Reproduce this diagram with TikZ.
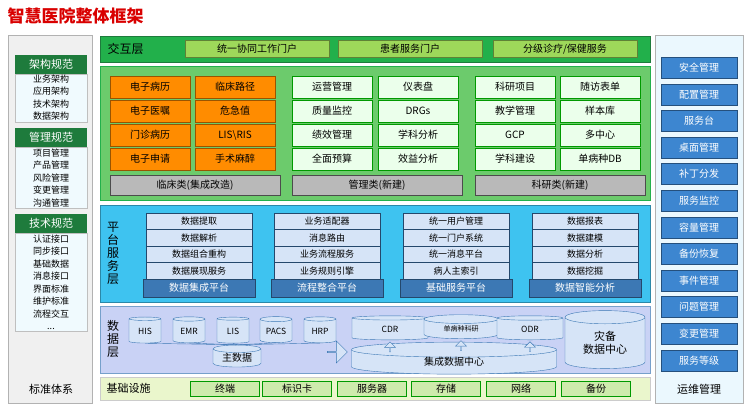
\documentclass[tikz,border=0pt]{standalone}
\usepackage{fontspec}
\setmainfont{Noto Sans CJK SC}
\usetikzlibrary{positioning,shapes.geometric,shapes.arrows}
\definecolor{dkgreen}{HTML}{1E7B3C}
\definecolor{midgreen}{HTML}{22B04B}
\definecolor{ltgreen}{HTML}{9ED85A}
\definecolor{appgreen}{HTML}{6CCB6C}
\definecolor{orng}{HTML}{FF8C00}
\definecolor{cyanbg}{HTML}{3EC3F0}
\definecolor{lavbg}{HTML}{C9D2F5}
\definecolor{barblue}{HTML}{3C78B4}
\definecolor{itemblue}{HTML}{D6E4F7}
\definecolor{rbtn}{HTML}{3D86D0}
\definecolor{infra}{HTML}{EAF6CC}
\begin{document}
\begin{tikzpicture}[x=1pt,y=-1pt,
    box/.style={draw=#1!60!black, line width=0.4pt, inner sep=0pt, font=\fontsize{10}{11}\selectfont},
    cyl/.style={cylinder, shape border rotate=90, aspect=0.25, draw=barblue, fill=itemblue, inner sep=0pt, font=\fontsize{8.5}{9}\selectfont},
    hdr/.style={fill=dkgreen, text=white, font=\fontsize{11}{12}\selectfont, minimum width=72pt, minimum height=19pt, inner sep=0pt},
    lst/.style={fill=white!80!cyan!30, draw=gray!50, font=\fontsize{9}{12.5}\selectfont, minimum width=72pt, align=center, inner sep=1pt},
    rbox/.style={fill=rbtn, text=white, draw=rbtn!60!black, font=\fontsize{10}{11}\selectfont, minimum width=76pt, minimum height=21pt, inner sep=0pt}
]
\useasboundingbox (0,0) rectangle (750,410);
\fill[white] (0,0) rectangle (750,410);

% title
\node[anchor=west, text=red!85!black, font=\fontsize{17}{18}\selectfont\bfseries] (title) at (4,16) {智慧医院整体框架};

% left panel
\node[draw=gray!60, fill=gray!12, minimum width=84pt, minimum height=368pt, inner sep=0pt, anchor=north west] (left) at (8,35) {};
\node[hdr] (h1) at (51,64) {架构规范};
\node[lst, below=0pt of h1] (l1) {业务架构\\应用架构\\技术架构\\数据架构};
\node[hdr, below=6pt of l1] (h2) {管理规范};
\node[lst, below=0pt of h2] (l2) {项目管理\\产品管理\\风险管理\\变更管理\\沟通管理};
\node[hdr, below=6pt of l2] (h3) {技术规范};
\node[lst, below=0pt of h3] (l3) {认证接口\\同步接口\\基础数据\\消息接口\\界面标准\\维护标准\\流程交互\\...};
\node[font=\fontsize{11}{12}\selectfont] (std) at (51,389) {标准体系};

% right panel
\node[draw=gray!60, fill=cyan!8, minimum width=88pt, minimum height=368pt, inner sep=0pt, anchor=north west] (right) at (655,35) {};
\foreach \t [count=\i] in {安全管理,配置管理,服务台,桌面管理,补丁分发,服务监控,容量管理,备份恢复,事件管理,问题管理,变更管理,服务等级}
  \node[rbox] (r\i) at (699,{41+\i*26.6}) {\t};
\node[font=\fontsize{11}{12}\selectfont] (ops) at (699,389) {运维管理};

% interaction layer
\node[fill=midgreen, draw=dkgreen, minimum width=550pt, minimum height=26pt, anchor=north west, inner sep=0pt] (jh) at (100,36) {};
\node[anchor=west, font=\fontsize{12}{13}\selectfont] (jhl) at (104,49) {交互层};
\foreach \x/\t in {257/统一协同工作门户, 410/患者服务门户, 565/{分级诊疗/保健服务}}
  \node[box=ltgreen, fill=ltgreen, minimum width=144pt, minimum height=17pt] at (\x,49) {\t};

% application layer
\node[fill=appgreen, draw=midgreen, line width=1pt, minimum width=550pt, minimum height=134pt, anchor=north west, inner sep=0pt] (app) at (100,66) {};
\foreach \a/\b [count=\r] in {电子病历/临床路径, 电子医嘱/危急值, 门诊病历/LIS\textbackslash RIS, 电子申请/手术麻醉}{
  \node[box=orng, fill=orng, minimum width=80pt, minimum height=22pt] at (150,{63+\r*24}) {\a};
  \node[box=orng, fill=orng, minimum width=80pt, minimum height=22pt] at (235,{63+\r*24}) {\b};
}
\foreach \a/\b [count=\r] in {运营管理/仪表盘, 质量监控/DRGs, 绩效管理/学科分析, 全面预算/效益分析}{
  \node[box=green, fill=green!8, minimum width=80pt, minimum height=22pt] at (332,{63+\r*24}) {\a};
  \node[box=green, fill=green!8, minimum width=80pt, minimum height=22pt] at (418,{63+\r*24}) {\b};
}
\foreach \a/\b [count=\r] in {科研项目/随访表单, 教学管理/样本库, GCP/多中心, 学科建设/单病种DB}{
  \node[box=green, fill=green!8, minimum width=80pt, minimum height=22pt] at (515,{63+\r*24}) {\a};
  \node[box=green, fill=green!8, minimum width=80pt, minimum height=22pt] at (600,{63+\r*24}) {\b};
}
\node[box=gray, fill=gray!55, minimum width=170pt, minimum height=20pt] (clin) at (195,185) {临床类(集成改造)};
\node[box=gray, fill=gray!55, minimum width=170pt, minimum height=20pt] (mgmt) at (377,185) {管理类(新建)};
\node[box=gray, fill=gray!55, minimum width=170pt, minimum height=20pt] (res) at (560,185) {科研类(新建)};

% platform service layer
\node[fill=cyanbg, draw=cyanbg!70!black, minimum width=550pt, minimum height=97pt, anchor=north west, inner sep=0pt] (plat) at (100,205) {};
\node[font=\fontsize{12}{13}\selectfont, align=center] (platl) at (113,253) {平\\台\\服\\务\\层};
\foreach \x/\h/\a/\b/\c/\d in {
  199/数据集成平台/数据提取/数据解析/数据组合重构/数据展现服务,
  327/流程整合平台/业务适配器/消息路由/业务流程服务/业务规则引擎,
  456/基础服务平台/统一用户管理/统一门户系统/统一消息平台/病人主索引,
  585/数据智能分析/数据报表/数据建模/数据分析/数据挖掘}{
  \foreach \t [count=\r] in {\a,\b,\c,\d}
    \node[box=barblue, fill=itemblue, minimum width=106pt, minimum height=16.5pt, font=\fontsize{9}{10}\selectfont] at (\x,{204.75+\r*16.5}) {\t};
  \node[box=barblue, fill=barblue, text=white, minimum width=112pt, minimum height=18pt] at (\x,288) {\h};
}

% data layer
\node[fill=lavbg, draw=barblue!70, minimum width=550pt, minimum height=67pt, anchor=north west, inner sep=0pt] (dat) at (100,306) {};
\node[font=\fontsize{12}{13}\selectfont, align=center] (datl) at (113,339) {数\\据\\层};
\node[cyl, minimum width=48pt, minimum height=22pt, font=\fontsize{10}{11}\selectfont] (mdm) at (237,358) {主数据};
\foreach \t/\x in {HIS/145, EMR/189, LIS/233, PACS/276, HRP/320}{
  \node[cyl, minimum width=32pt, minimum height=26pt] (\t) at (\x,331) {\t};
  \draw[barblue] (\t.south) -- (mdm.north);
}
\node[single arrow, draw=barblue, fill=itemblue, minimum width=22pt, single arrow head extend=3pt, minimum height=20pt, inner sep=0pt] (arr) at (337,352) {};
\node[cyl, minimum width=76pt, minimum height=24pt] (CDR) at (390,329) {CDR};
\node[cyl, minimum width=74pt, minimum height=24pt, font=\fontsize{7}{8}\selectfont] (dbz) at (461,329) {单病种科研};
\node[cyl, minimum width=66pt, minimum height=24pt] (ODR) at (530,329) {ODR};
\node[cyl, minimum width=205pt, minimum height=22pt, font=\fontsize{10}{11}\selectfont] (idc) at (454,362) {集成数据中心};
\foreach \n in {CDR,dbz,ODR}
  \node[single arrow, shape border rotate=90, draw=barblue, fill=itemblue, minimum width=11pt, minimum height=10pt, inner sep=0pt, single arrow head extend=2pt] at ([yshift=-7pt]\n.south) {};
\node[cyl, minimum width=80pt, minimum height=58pt, font=\fontsize{11}{13}\selectfont, align=center, aspect=0.3] (dr) at (605,343) {灾备\\数据中心};

% infrastructure
\node[fill=infra, draw=gray!40, minimum width=550pt, minimum height=23pt, anchor=north west, inner sep=0pt] (inf) at (100,377) {};
\node[anchor=west, font=\fontsize{11}{12}\selectfont] (infl) at (103,388.5) {基础设施};
\foreach \t/\x in {终端/225, 标识卡/297, 服务器/372, 存储/446, 网络/521, 备份/596}
  \node[box=green, fill=ltgreen!50, minimum width=69pt, minimum height=15pt] at (\x,389) {\t};

\end{tikzpicture}
\end{document}
